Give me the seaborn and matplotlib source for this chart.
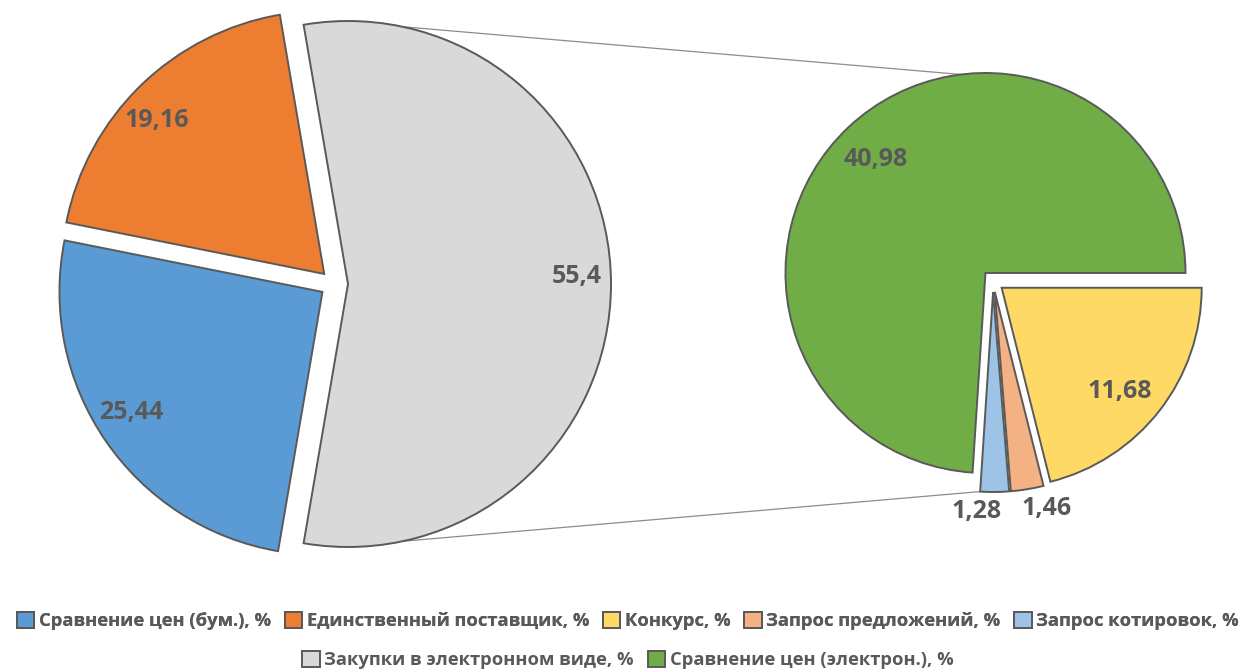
import numpy as np
import matplotlib.pyplot as plt
import seaborn as sns
from matplotlib.patches import Patch

sns.set_theme(style="white")
plt.rcParams['font.family'] = ['Open Sans', 'DejaVu Sans']

# main pie (paper vs electronic)
main_labels = ['Закупки в электронном виде, %', 'Единственный поставщик, %', 'Сравнение цен (бум.), %']
main_values = [55.4, 19.16, 25.44]
main_colors = ['#D9D9D9', '#ED7D31', '#5B9BD5']

# secondary pie (breakdown of electronic)
sub_labels = ['Сравнение цен (электрон.), %', 'Запрос котировок, %', 'Запрос предложений, %', 'Конкурс, %']
sub_values = [40.98, 1.28, 1.46, 11.68]
sub_colors = ['#70AD47', '#9DC3E6', '#F4B183', '#FFD966']

legend_row1 = ['Сравнение цен (бум.), %', 'Единственный поставщик, %', 'Конкурс, %',
               'Запрос предложений, %', 'Запрос котировок, %']
legend_row2 = ['Закупки в электронном виде, %', 'Сравнение цен (электрон.), %']

EDGE = '#595959'
TXT = '#595959'
W, H = 1241, 672

fig = plt.figure(figsize=(W / 100, H / 100), dpi=100)
ax = fig.add_axes([0, 0, 1, 1])

left_c, left_r = (334, H - 284), 263
right_c, right_r = (993, H - 281), 200

# explode is in data units here (axes are in pixels)
start = -main_values[0] / sum(main_values) * 360 / 2
wl, _ = ax.pie(main_values, colors=main_colors, startangle=start, center=left_c,
               radius=left_r, explode=[14] * 3, counterclock=True,
               wedgeprops=dict(edgecolor=EDGE, linewidth=1.4, zorder=3))
wr, _ = ax.pie(sub_values, colors=sub_colors, startangle=0, center=right_c,
               radius=right_r, explode=[11] * 4, counterclock=True,
               wedgeprops=dict(edgecolor=EDGE, linewidth=1.4, zorder=3))


def fmt(v):
    return f"{v:g}".replace('.', ',')


def pt(w, ang, frac=1.0):
    a = np.deg2rad(ang)
    return (w.center[0] + frac * w.r * np.cos(a), w.center[1] + frac * w.r * np.sin(a))


def put_label(w, v, frac, dx=0, dy=0):
    mid = (w.theta1 + w.theta2) / 2
    x, y = pt(w, mid, frac)
    ax.text(x + dx, y + dy, fmt(v), ha='center', va='center', fontsize=18,
            fontweight='bold', color=TXT, zorder=5)


left_nudge = [(0, 8), (-8, -11), (-3, 9)]
for w, v, (dx, dy) in zip(wl, main_values, left_nudge):
    put_label(w, v, 0.87, dx, dy)
right_nudge = [(0, -3), (-18, -4), (17, -4), (-8, -5)]
for w, v, (dx, dy) in zip(wr, sub_values, right_nudge):
    put_label(w, v, 0.8 if v > 5 else 1.08, dx, dy)

# connector lines between the pies
g = wl[0]
p1 = pt(g, 78)
p2 = pt(wr[0], 97)
p3 = pt(g, -78)
p4 = pt(wr[1], wr[1].theta1)
ax.plot([p1[0], p2[0]], [p1[1], p2[1]], color='#8C8C8C', lw=0.9, zorder=1)
ax.plot([p3[0], p4[0]], [p3[1], p4[1]], color='#8C8C8C', lw=0.9, zorder=1)

ax.set_xlim(0, W)
ax.set_ylim(0, H)
ax.set_aspect('equal')
ax.axis('off')

color_of = dict(zip(main_labels + sub_labels, main_colors + sub_colors))


def make_legend(names, y):
    handles = [Patch(facecolor=color_of[n], edgecolor=EDGE, linewidth=1.4) for n in names]
    leg = fig.legend(handles, names, loc='center', bbox_to_anchor=(0.506, y),
                     ncol=len(names), frameon=False, handlelength=0.95, handleheight=0.95,
                     handletextpad=0.25, columnspacing=0.75,
                     prop=dict(family='Open Sans', weight='bold', size=13.2))
    for t in leg.get_texts():
        t.set_color(TXT)
    return leg


l1 = make_legend(legend_row1, 1 - 621 / H)
fig.add_artist(l1)
make_legend(legend_row2, 1 - 660 / H)

fig.savefig('out.png', dpi=100, facecolor='white')
